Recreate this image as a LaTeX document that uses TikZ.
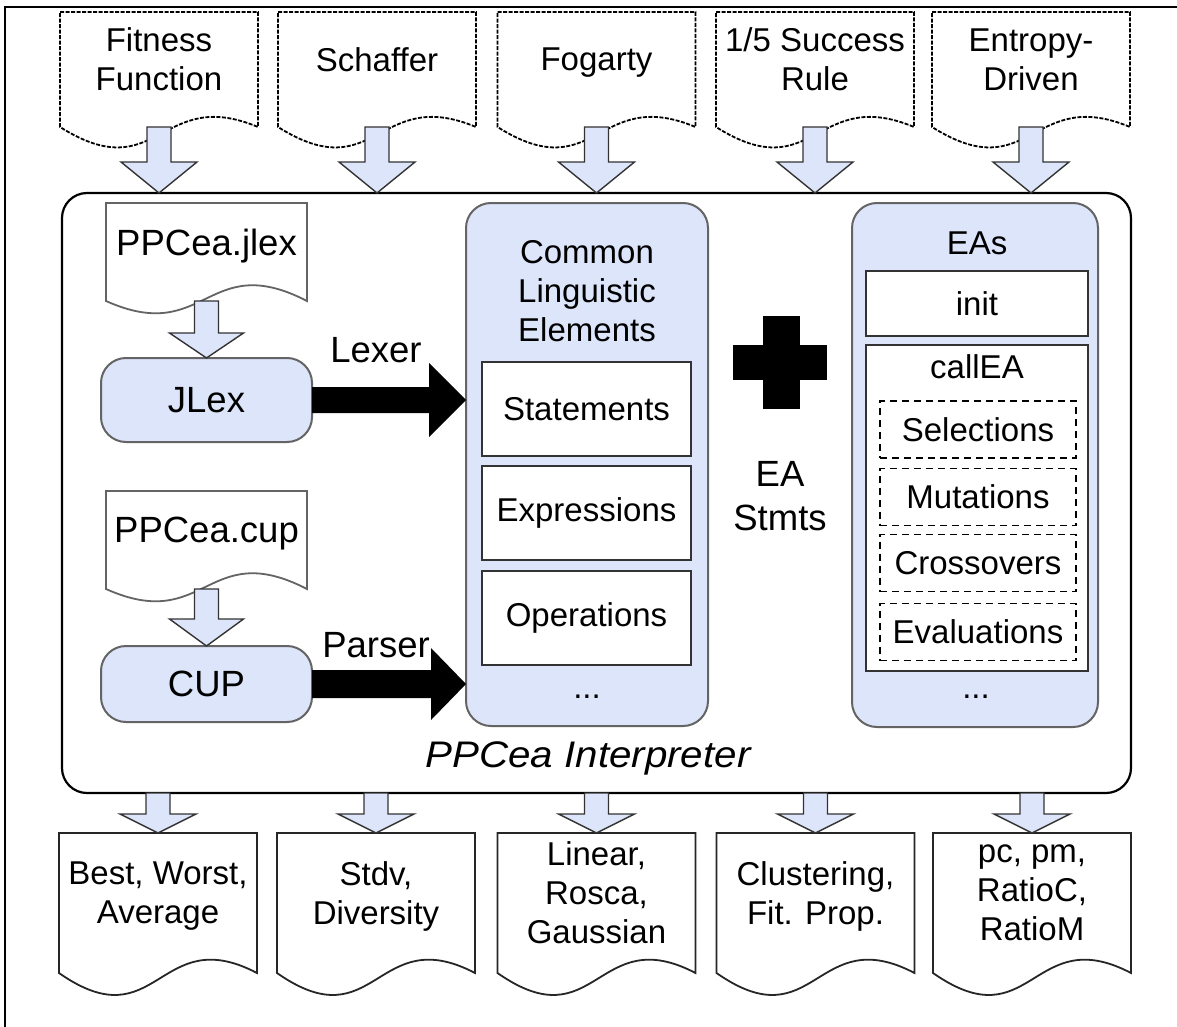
\documentclass[tikz,border=0pt]{standalone}
\usepackage{fontspec}
\usepackage{graphicx}
\setmainfont{Liberation Sans}
\usetikzlibrary{calc}

\definecolor{panel}{RGB}{221,229,250}
\definecolor{edge}{RGB}{100,100,100}

% Document shape: rectangle whose bottom edge is a wave
\makeatletter
\newdimen\wdoc@l \newdimen\wdoc@r \newdimen\wdoc@t \newdimen\wdoc@b
\newdimen\wdoc@m \newdimen\wdoc@up \newdimen\wdoc@dn
\pgfkeys{/pgf/doc peak/.initial=12pt,/pgf/doc dip/.initial=18pt}
\pgfdeclareshape{wavedoc}{%
  \inheritsavedanchors[from=rectangle]%
  \inheritanchorborder[from=rectangle]%
  \inheritanchor[from=rectangle]{center}%
  \inheritanchor[from=rectangle]{north}%
  \inheritanchor[from=rectangle]{south}%
  \inheritanchor[from=rectangle]{east}%
  \inheritanchor[from=rectangle]{west}%
  \inheritanchor[from=rectangle]{north east}%
  \inheritanchor[from=rectangle]{north west}%
  \inheritanchor[from=rectangle]{south east}%
  \inheritanchor[from=rectangle]{south west}%
  \inheritanchor[from=rectangle]{text}%
  \inheritanchor[from=rectangle]{base}%
  \inheritanchor[from=rectangle]{mid}%
  \backgroundpath{%
    \pgfmathsetlength\wdoc@up{3.46*\pgfkeysvalueof{/pgf/doc peak}}%
    \pgfmathsetlength\wdoc@dn{3.46*\pgfkeysvalueof{/pgf/doc dip}}%
    \southwest \wdoc@l=\pgf@x \wdoc@b=\pgf@y
    \northeast \wdoc@r=\pgf@x \wdoc@t=\pgf@y
    \wdoc@m=.5\wdoc@l \advance\wdoc@m by .5\wdoc@r
    \advance\wdoc@up by \wdoc@b
    \wdoc@dn=-\wdoc@dn \advance\wdoc@dn by \wdoc@b
    \pgfpathmoveto{\pgfqpoint{\wdoc@l}{\wdoc@t}}%
    \pgfpathlineto{\pgfqpoint{\wdoc@r}{\wdoc@t}}%
    \pgfpathlineto{\pgfqpoint{\wdoc@r}{\wdoc@b}}%
    \pgfpathcurveto{\pgfqpoint{\wdoc@m}{\wdoc@up}}{\pgfqpoint{\wdoc@m}{\wdoc@dn}}{\pgfqpoint{\wdoc@l}{\wdoc@b}}%
    \pgfpathclose
  }%
}
\makeatother

% Block arrows: shaft start, tip, shaft half width, head half width, head length
\newcommand\blockdown[6][blockarrow]{%
  \draw[#1] ($(#2)+(-#4,0)$) -- ($(#2)+(#4,0)$) -- ($(#3)+(#4,-#6)$) -- ($(#3)+(#5,-#6)$)
    -- (#3) -- ($(#3)+(-#5,-#6)$) -- ($(#3)+(-#4,-#6)$) -- cycle;}
\newcommand\blockright[6][fill=black]{%
  \fill[#1] ($(#2)+(0,-#4)$) -- ($(#3)+(-#6,-#4)$) -- ($(#3)+(-#6,-#5)$) -- (#3)
    -- ($(#3)+(-#6,#5)$) -- ($(#3)+(-#6,#4)$) -- ($(#2)+(0,#4)$) -- cycle;}

\tikzset{
  every node/.style={font=\fontsize{33}{39}\selectfont, inner sep=2pt, outer sep=0pt},
  large text/.style={font=\fontsize{36.5}{44}\selectfont},
  docbase/.style={shape=wavedoc, fill=white, line width=1.8pt, align=center, text depth=20pt},
  topdoc/.style={docbase, draw=black, dash pattern=on 4pt off 1.5pt,
    minimum width=198pt, minimum height=115pt, doc peak=12pt, doc dip=18pt},
  botdoc/.style={docbase, draw=black!85, minimum width=198pt, minimum height=140pt,
    doc peak=15pt, doc dip=20pt},
  srcdoc/.style={docbase, draw=edge, large text, minimum width=201pt, minimum height=98pt,
    doc peak=15pt, doc dip=13pt},
  panelbox/.style={draw=edge, line width=2pt, fill=panel, rounded corners=25pt},
  toolbox/.style={panelbox, large text, minimum width=211pt},
  itembox/.style={draw=black!80, line width=2pt, fill=white},
  stepbox/.style={draw=black, line width=1.4pt, dash pattern=on 7pt off 5pt, fill=white,
    minimum width=196pt, minimum height=57pt},
  blockarrow/.style={draw=black!80, line width=1.4pt, fill=panel, line join=miter},
}

\begin{document}
\begin{tikzpicture}[x=1pt, y=-1pt]
\useasboundingbox (0,0) rectangle (1177,1027);

% frame
\draw[line width=2pt] (5,1027) -- (5,7) -- (1177,7);

% interpreter container
\node[draw=black, line width=2.2pt, fill=white, rounded corners=25pt,
      minimum width=1069pt, minimum height=600pt] (interp) at (596.5,493) {};
\node[large text, font=\fontsize{37}{44}\selectfont\itshape] (interplabel) at (588,758)
  {\scalebox{1.09}[1]{PPCea Interpreter}};

% common linguistic elements
\node[panelbox, minimum width=242pt, minimum height=523pt] (cle) at (587,464.5) {};
\node[align=center] (cletitle) at (587,291) {Common\\Linguistic\\Elements};
\node[itembox, minimum width=209pt, minimum height=94pt] (stmts) at (586.5,409) {Statements};
\node[itembox, minimum width=209pt, minimum height=94pt] (exprs) at (586.5,513) {Expressions};
\node[itembox, minimum width=209pt, minimum height=94pt] (ops) at (586.5,618) {Operations};
\node (cledots) at (587,697) {...};

% plus sign and EA statements
\fill (733,345) rectangle (827,380);
\fill (763,316) rectangle (800,409);
\node[large text, align=center] (eastmts) at (780,496) {EA\\Stmts};

% EAs
\node[panelbox, minimum width=246pt, minimum height=524pt] (eas) at (975,465) {};
\node (eastitle) at (977,243) {EAs};
\node[itembox, minimum width=222pt, minimum height=65pt] (init) at (977,303.5) {init};
\node[itembox, minimum width=222pt, minimum height=326pt] (callea) at (977,508) {};
\node (calleatitle) at (977,367) {callEA};
\node[stepbox] (sel) at (978,429.5) {Selections};
\node[stepbox] (mut) at (978,497) {Mutations};
\node[stepbox] (cross) at (978,563) {Crossovers};
\node[stepbox] (eval) at (978,632) {Evaluations};
\node (easdots) at (976,697) {...};

% lexer and parser generators
\node[srcdoc] (jlexsrc) at (206.5,252) {PPCea.jlex};
\node[toolbox, minimum height=84pt] (jlex) at (206.5,400) {JLex};
\node[srcdoc] (cupsrc) at (206.5,540) {PPCea.cup};
\node[toolbox, minimum height=76pt] (cup) at (206.5,684) {CUP};
\blockdown{jlexsrc.south}{jlex.north}{12}{37}{25}
\blockdown{cupsrc.south}{cup.north}{12}{37}{27}
\blockright{jlex.east}{jlex.east -| cle.west}{13}{37}{37}
\blockright{cup.east}{cup.east -| cle.west}{14}{36}{35}
\node[large text] (lexerlbl) at (376,350) {Lexer};
\node[large text] (parserlbl) at (376,645) {Parser};

% inputs
\node[topdoc] (fitness) at (159,69.5) {Fitness\\Function};
\node[topdoc] (schaffer) at (377,69.5) {Schaffer};
\node[topdoc] (fogarty) at (596.5,69.5) {Fogarty};
\node[topdoc] (rule) at (815,69.5) {1/5 Success\\Rule};
\node[topdoc] (entropy) at (1031,69.5) {Entropy-\\Driven};
\foreach \d in {fitness,schaffer,fogarty,rule,entropy}{
  \blockdown{\d.south}{\d.south |- interp.north}{12}{38}{31}
}

% outputs
\node[botdoc] (bwa) at (158,903) {Best, Worst,\\Average};
\node[botdoc] (stdv) at (376,903) {Stdv,\\Diversity};
\node[botdoc] (lrg) at (596.5,903) {Linear,\\Rosca,\\Gaussian};
\node[botdoc] (clus) at (815.5,903) {Clustering,\\Fit. Prop.};
\node[botdoc] (ratio) at (1032,903) {pc, pm,\\RatioC,\\RatioM};
\foreach \d in {bwa,stdv,lrg,clus,ratio}{
  \blockdown{\d.north |- interp.south}{\d.north}{12}{38}{19}
}
\end{tikzpicture}
\end{document}
